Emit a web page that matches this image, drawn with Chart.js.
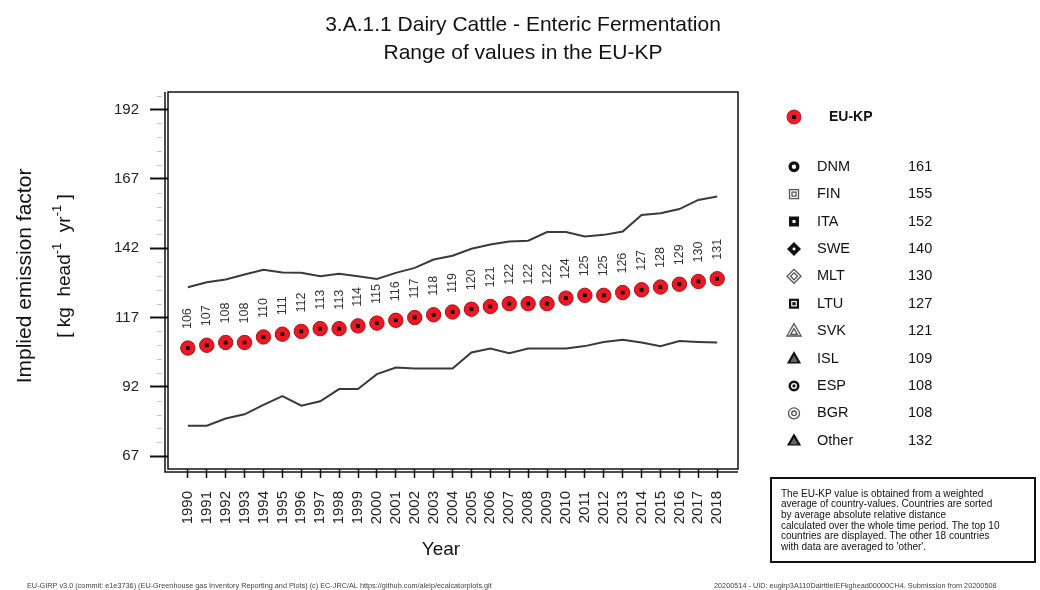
<!DOCTYPE html>
<html lang="en">
<head>
<meta charset="UTF-8">
<title>3.A.1.1 Dairy Cattle - Enteric Fermentation</title>
<script src="https://cdn.jsdelivr.net/npm/chart.js"></script>
<style>
  html, body { margin: 0; padding: 0; background: #fff; }
  #wrap { width: 1040px; height: 590px; }
</style>
</head>
<body>
<div id="wrap"><canvas id="myChart" width="1040" height="590"></canvas></div>
<script>
const years = [1990, 1991, 1992, 1993, 1994, 1995, 1996, 1997, 1998, 1999, 2000, 2001, 2002, 2003, 2004,
  2005, 2006, 2007, 2008, 2009, 2010, 2011, 2012, 2013, 2014, 2015, 2016, 2017, 2018]
// EU-KP implied emission factor (labels above the dots)
const euKp = [106, 107, 108, 108, 110, 111, 112, 113, 113, 114, 115, 116, 117, 118, 119,
  120, 121, 122, 122, 122, 124, 125, 125, 126, 127, 128, 129, 130, 131]
// upper / lower edge of the country range
const rangeMax = [127.9, 129.7, 130.7, 132.5, 134.2, 133.2, 133.1, 131.9, 132.8, 131.9, 130.9, 133.1, 134.9, 137.9, 139.3,
  141.8, 143.3, 144.4, 144.7, 147.8, 147.8, 146.2, 146.8, 148.0, 154.0, 154.6, 156.1, 159.4, 160.6]
const rangeMin = [78.0, 78.0, 80.6, 82.1, 85.5, 88.7, 85.2, 86.8, 91.2, 91.2, 96.6, 99.0, 98.6, 98.6, 98.6,
  104.4, 105.8, 104.1, 105.8, 105.8, 105.8, 106.7, 108.2, 109.0, 108.0, 106.7, 108.5, 108.2, 108.0]
const yTicks = [67, 92, 117, 142, 167, 192]

const legendCountries = ['DNM', 'FIN', 'ITA', 'SWE', 'MLT', 'LTU', 'SVK', 'ISL', 'ESP', 'BGR', 'Other']
const legendValues = [161, 155, 152, 140, 130, 127, 121, 109, 108, 108, 132]
const legendSymbols = ['ringBlack', 'sqOpen', 'sqBlack', 'diaBlack', 'diaOpen', 'sqFrame', 'triOpen', 'triBlack', 'circBlack', 'circOpen', 'triBlack']

const noteLines = [
  'The EU-KP value is obtained from a weighted',
  'average of country-values. Countries are sorted',
  'by average absolute relative distance',
  'calculated over the whole time period. The top 10',
  'countries are displayed. The other 18 countries',
  "with data are averaged to 'other'."
]
const footLeft = 'EU-GIRP v3.0 (commit: e1e3736) (EU-Greenhouse gas Inventory Reporting and Plots) (c) EC-JRC/AL https://github.com/aleip/ecalcatorplots.git'
const footRight = '20200514 - UID: eugirp3A110DairttleIEFkghead00000CH4. Submission from 20200508'

const FONT = '"Liberation Sans", Arial, sans-serif'

function pathDiamond(ctx, x, y, r) {
  ctx.beginPath()
  ctx.moveTo(x, y - r); ctx.lineTo(x + r, y); ctx.lineTo(x, y + r); ctx.lineTo(x - r, y)
  ctx.closePath()
}
function pathTri(ctx, x, y, r) {
  ctx.beginPath()
  ctx.moveTo(x, y - r); ctx.lineTo(x + r * 0.95, y + r * 0.65); ctx.lineTo(x - r * 0.95, y + r * 0.65)
  ctx.closePath()
}
function pathCircle(ctx, x, y, r) {
  ctx.beginPath(); ctx.arc(x, y, r, 0, Math.PI * 2)
}

function drawSymbol(ctx, kind, x, y) {
  const dark = '#111', grey = '#555'
  ctx.save()
  ctx.lineWidth = 1.3
  if (kind === 'ringBlack') {
    pathCircle(ctx, x, y, 5.5); ctx.fillStyle = dark; ctx.fill()
    pathCircle(ctx, x, y, 2.2); ctx.fillStyle = '#fff'; ctx.fill()
  } else if (kind === 'sqOpen') {
    ctx.strokeStyle = grey
    ctx.strokeRect(x - 4.5, y - 4.5, 9, 9)
    ctx.strokeRect(x - 2, y - 2, 4, 4)
  } else if (kind === 'sqBlack') {
    ctx.fillStyle = dark; ctx.fillRect(x - 5, y - 5, 10, 10)
    ctx.fillStyle = '#fff'; ctx.fillRect(x - 1.5, y - 1.5, 3, 3)
  } else if (kind === 'diaBlack') {
    pathDiamond(ctx, x, y, 7); ctx.fillStyle = dark; ctx.fill()
    pathDiamond(ctx, x, y, 1.8); ctx.fillStyle = '#fff'; ctx.fill()
  } else if (kind === 'diaOpen') {
    ctx.strokeStyle = grey
    pathDiamond(ctx, x, y, 7); ctx.stroke()
    pathDiamond(ctx, x, y, 3.5); ctx.stroke()
  } else if (kind === 'sqFrame') {
    ctx.fillStyle = dark; ctx.fillRect(x - 5, y - 5, 10, 10)
    ctx.fillStyle = '#fff'; ctx.fillRect(x - 2.8, y - 2.8, 5.6, 5.6)
    ctx.fillStyle = dark; ctx.fillRect(x - 1.6, y - 1.6, 3.2, 3.2)
  } else if (kind === 'triOpen') {
    ctx.strokeStyle = grey
    pathTri(ctx, x, y, 7.5); ctx.stroke()
    pathTri(ctx, x, y + 1, 3.5); ctx.stroke()
  } else if (kind === 'triBlack') {
    pathTri(ctx, x, y, 7.5); ctx.fillStyle = dark; ctx.fill()
    pathTri(ctx, x, y + 1, 4); ctx.fillStyle = '#666'; ctx.fill()
  } else if (kind === 'circBlack') {
    pathCircle(ctx, x, y, 5.5); ctx.fillStyle = dark; ctx.fill()
    pathCircle(ctx, x, y, 3); ctx.fillStyle = '#fff'; ctx.fill()
    pathCircle(ctx, x, y, 1.6); ctx.fillStyle = dark; ctx.fill()
  } else if (kind === 'circOpen') {
    ctx.strokeStyle = grey
    pathCircle(ctx, x, y, 5.5); ctx.stroke()
    pathCircle(ctx, x, y, 2.3); ctx.stroke()
  } else if (kind === 'euDot') {
    pathCircle(ctx, x, y, 7); ctx.fillStyle = '#ee1c25'; ctx.fill()
    ctx.strokeStyle = '#b5121b'; ctx.lineWidth = 1; ctx.stroke()
    ctx.fillStyle = '#000'; ctx.fillRect(x - 2, y - 2, 4, 4)
  }
  ctx.restore()
}

// value labels above the EU-KP dots
const dotLabels = {
  id: 'dotLabels',
  afterDatasetsDraw(chart) {
    const ctx = chart.ctx
    const meta = chart.getDatasetMeta(1)
    ctx.save()
    ctx.font = '12.5px ' + FONT
    ctx.fillStyle = '#333'
    ctx.textAlign = 'left'
    ctx.textBaseline = 'middle'
    meta.data.forEach((pt, i) => {
      ctx.save()
      ctx.translate(pt.x, pt.y - 19)
      ctx.rotate(-Math.PI / 2)
      ctx.fillText(String(euKp[i]), 0, 0)
      ctx.restore()
    })
    ctx.restore()
  }
}

// frame, titles, legend, note box and footer
const decor = {
  id: 'decor',
  afterDraw(chart) {
    const ctx = chart.ctx
    const a = chart.chartArea
    const ys = chart.scales.y
    ctx.save()

    // plot frame plus the separate axis lines
    ctx.strokeStyle = '#111'
    ctx.lineWidth = 1.5
    ctx.strokeRect(a.left, a.top, a.right - a.left, a.bottom - a.top)
    ctx.beginPath()
    ctx.moveTo(a.left - 3, a.top); ctx.lineTo(a.left - 3, a.bottom + 3); ctx.lineTo(a.right, a.bottom + 3)
    ctx.stroke()

    // minor ticks
    ctx.strokeStyle = '#c8c8c8'
    ctx.lineWidth = 1
    for (let v = 72; v < 198; v += 5) {
      if (yTicks.includes(v)) continue
      const py = Math.round(ys.getPixelForValue(v)) + 0.5
      ctx.beginPath(); ctx.moveTo(157, py); ctx.lineTo(162, py); ctx.stroke()
    }

    // title
    ctx.fillStyle = '#111'
    ctx.textAlign = 'center'
    ctx.textBaseline = 'middle'
    ctx.font = '21px ' + FONT
    ctx.fillText('3.A.1.1 Dairy Cattle - Enteric Fermentation', 523, 25)
    ctx.fillText('Range of values in the EU-KP', 523, 53)

    // x title
    ctx.font = '19px ' + FONT
    ctx.fillText('Year', 441, 550)

    // y title
    ctx.save()
    ctx.translate(25, 276)
    ctx.rotate(-Math.PI / 2)
    ctx.font = '21px ' + FONT
    ctx.fillText('Implied emission factor', 0, 0)
    ctx.restore()

    const segs = [
      { t: '[ kg  head', f: 19, dy: 0 },
      { t: '-1', f: 13, dy: -8 },
      { t: '  yr', f: 19, dy: 0 },
      { t: '-1', f: 13, dy: -8 },
      { t: ' ]', f: 19, dy: 0 }
    ]
    let total = 0
    segs.forEach(s => { ctx.font = s.f + 'px ' + FONT; s.w = ctx.measureText(s.t).width; total += s.w })
    ctx.save()
    ctx.translate(65, 266)
    ctx.rotate(-Math.PI / 2)
    ctx.textAlign = 'left'
    let cx = -total / 2
    segs.forEach(s => {
      ctx.font = s.f + 'px ' + FONT
      ctx.fillText(s.t, cx, s.dy)
      cx += s.w
    })
    ctx.restore()

    // legend
    ctx.textAlign = 'left'
    drawSymbol(ctx, 'euDot', 794, 117)
    ctx.font = 'bold 14px ' + FONT
    ctx.fillStyle = '#111'
    ctx.fillText('EU-KP', 829, 117)
    ctx.font = '14.5px ' + FONT
    legendCountries.forEach((c, i) => {
      const ry = 166.7 + i * 27.4
      drawSymbol(ctx, legendSymbols[i], 794, ry)
      ctx.fillStyle = '#111'
      ctx.fillText(c, 817, ry)
      ctx.fillText(String(legendValues[i]), 908, ry)
    })

    // note box
    ctx.strokeStyle = '#111'
    ctx.lineWidth = 2
    ctx.strokeRect(771, 478, 264, 84)
    ctx.font = '10px ' + FONT
    ctx.fillStyle = '#111'
    noteLines.forEach((l, i) => ctx.fillText(l, 781, 494 + i * 10.6))

    // footer
    ctx.font = '7.3px ' + FONT
    ctx.fillStyle = '#444'
    ctx.fillText(footLeft, 27, 586)
    ctx.fillText(footRight, 714, 586)

    ctx.restore()
  }
}

const ctx = document.getElementById('myChart').getContext('2d')
const chart = new Chart(ctx, {
  type: 'line',
  data: {
    datasets: [{
      label: 'EU-KP centre',
      data: years.map((yr, i) => ({ x: yr, y: euKp[i] })),
      showLine: false,
      pointStyle: 'rect',
      pointRadius: 2.6,
      backgroundColor: '#000',
      borderWidth: 0
    }, {
      label: 'EU-KP',
      data: years.map((yr, i) => ({ x: yr, y: euKp[i] })),
      showLine: false,
      pointStyle: 'circle',
      pointRadius: 7.2,
      backgroundColor: '#ec1822',
      borderColor: '#a8101a',
      borderWidth: 1
    }, {
      label: 'Max',
      data: years.map((yr, i) => ({ x: yr, y: rangeMax[i] })),
      borderColor: '#3a3a3a',
      borderWidth: 2,
      pointRadius: 0,
      tension: 0
    }, {
      label: 'Min',
      data: years.map((yr, i) => ({ x: yr, y: rangeMin[i] })),
      borderColor: '#3a3a3a',
      borderWidth: 2,
      pointRadius: 0,
      tension: 0
    }]
  },
  options: {
    responsive: false,
    animation: false,
    devicePixelRatio: 1,
    layout: { padding: { top: 92, right: 302, left: 0, bottom: 0 } },
    plugins: {
      legend: { display: false },
      tooltip: { enabled: false },
      title: { display: false }
    },
    scales: {
      x: {
        type: 'linear',
        min: 1988.95,
        max: 2019.1,
        afterBuildTicks: (s) => { s.ticks = years.map(v => ({ value: v })) },
        afterFit: (s) => { s.height = 121 },
        border: { display: false },
        grid: { drawOnChartArea: false, tickLength: 9, tickColor: '#111', tickWidth: 1.5 },
        ticks: {
          autoSkip: false,
          minRotation: 90,
          maxRotation: 90,
          padding: 13,
          color: '#222',
          font: { family: FONT, size: 15 },
          callback: (v) => String(v)
        }
      },
      y: {
        min: 62.4,
        max: 198.3,
        afterBuildTicks: (s) => { s.ticks = yTicks.map(v => ({ value: v })) },
        afterFit: (s) => { s.width = 168 },
        border: { display: false },
        grid: { drawOnChartArea: false, tickLength: 18, tickColor: '#111', tickWidth: 2 },
        ticks: {
          padding: 11,
          color: '#222',
          font: { family: FONT, size: 15 },
          callback: (v) => String(v)
        }
      }
    }
  },
  plugins: [dotLabels, decor]
})
</script>
</body>
</html>
